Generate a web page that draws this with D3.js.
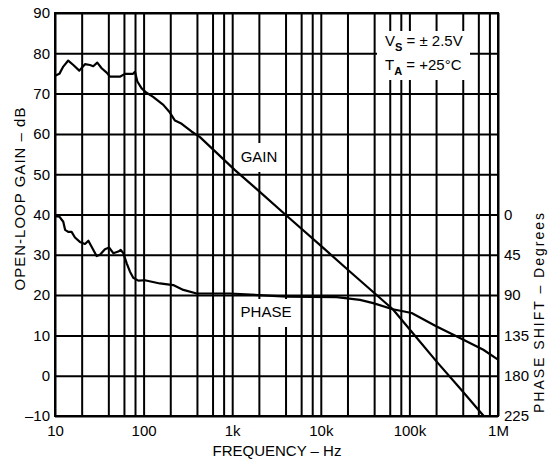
<!DOCTYPE html>
<html><head><meta charset="utf-8">
<script src="https://cdn.jsdelivr.net/npm/d3@7/dist/d3.min.js"></script>
<style>
html,body{margin:0;padding:0;background:#fff;}
text{font-family:"Liberation Sans",Arial,Helvetica,sans-serif;fill:#000;}
</style></head>
<body><svg id="c" width="548" height="464"></svg>
<script>
// ---- data ----
const gainFreq = [10,11.2,12.4,14.1,16.1,18.8,21.8,24.8,27,30,33.6,38.3,41.7,54,61.5,76,80,85,95,108,128,167,198,226,269,347,433,1075,2050,3970,10660,21400,65000,106000,203000,372000,690000];
const gainDb   = [74.4,74.9,76.7,78.2,77.1,75.7,77.3,77.1,76.8,77.7,76.3,75.2,74.2,74.2,74.9,74.9,75.4,73.0,71.3,70.2,69.2,67.2,65.3,63.3,62.5,60.6,59.2,51.0,45.6,40.0,31.7,25.8,16.5,10.9,3.5,-3.1,-10];
const phaseFreq = [10,11.2,12.4,13,14.1,15.4,16.8,19.1,21.8,23.8,25.9,29.5,32.2,36.6,40.9,45.5,51.8,55.2,59,64.5,70.2,76.4,87.1,103.5,152.6,216,281,397,943,4125,15100,27700,39100,65000,106000,203000,372000,683000,1000000];
const phaseDeg  = [1.8,2.3,8.1,17.1,19.4,19.4,25.7,30.6,32.9,29.3,36,46.4,45,38.7,36.9,43.2,41.4,39.6,43.2,54.5,63.9,70.7,73.8,73.4,77,78.8,84.2,88.2,88.2,91.8,92.2,95.4,99,105.8,110,125,138,151,162];
const gainTicks = [-10,0,10,20,30,40,50,60,70,80,90];
const phaseTicks = [0,45,90,135,180,225];
const freqLabels = {10:"10",100:"100",1000:"1k",10000:"10k",100000:"100k",1000000:"1M"};
const decades = [10,100,1000,10000,100000];
const gridMult = [1,2,4,6,8];

const svg = d3.select("#c");
const L=55,R=498,T=13,B=416;
const x = d3.scaleLog().domain([10,1e6]).range([L,R]);
const y = d3.scaleLinear().domain([-10,90]).range([B,T]);
const yp = d3.scaleLinear().domain([0,225]).range([y(40),y(-10)]);

const gridF = [];
decades.forEach(d=>gridMult.forEach(m=>gridF.push(d*m)));
gridF.push(1e6);

// grid via axes
const gx = svg.append("g").attr("transform",`translate(0,${B})`)
  .call(d3.axisBottom(x).tickValues(gridF).tickSize(-(B-T)).tickFormat(""));
gx.select(".domain").remove();
gx.selectAll("line").attr("stroke","#000").attr("stroke-width",2);
const gy = svg.append("g").attr("transform",`translate(${L},0)`)
  .call(d3.axisLeft(y).tickValues(gainTicks).tickSize(-(R-L)).tickFormat(""));
gy.select(".domain").remove();
gy.selectAll("line").attr("stroke","#000").attr("stroke-width",2);

// white label boxes
svg.append("rect").attr("x",377).attr("y",31).attr("width",93).attr("height",49).attr("fill","#fff");
svg.append("rect").attr("x",238).attr("y",143).attr("width",42).attr("height",29).attr("fill","#fff");
svg.append("rect").attr("x",239).attr("y",299).attr("width",55).attr("height",28).attr("fill","#fff");

// axis labels
const fs=15;
const ax = svg.append("g").attr("transform",`translate(0,${B})`)
  .call(d3.axisBottom(x).tickValues(Object.keys(freqLabels).map(Number)).tickSize(0).tickPadding(9)
  .tickFormat(d=>freqLabels[d]));
ax.select(".domain").remove();
ax.selectAll("text").style("font-size",fs+"px").attr("font-family","Liberation Sans, Arial, sans-serif");
const ay = svg.append("g").attr("transform",`translate(${L},0)`)
  .call(d3.axisLeft(y).tickValues(gainTicks).tickSize(0).tickPadding(5)
  .tickFormat(d=>d<0?"\u2013"+Math.abs(d):d));
ay.select(".domain").remove();
ay.selectAll("text").style("font-size",fs+"px").attr("font-family","Liberation Sans, Arial, sans-serif");
const ap = svg.append("g").attr("transform",`translate(${R},0)`)
  .call(d3.axisRight(yp).tickValues(phaseTicks).tickSize(0).tickPadding(6));
ap.select(".domain").remove();
ap.selectAll("text").style("font-size",fs+"px").attr("font-family","Liberation Sans, Arial, sans-serif");

// titles
svg.append("text").attr("x",277).attr("y",456).attr("text-anchor","middle").style("font-size",fs+"px").text("FREQUENCY \u2013 Hz");
svg.append("text").attr("transform","translate(25,199) rotate(-90)").attr("text-anchor","middle")
  .style("font-size",fs+"px").attr("textLength",183).attr("lengthAdjust","spacing").text("OPEN-LOOP GAIN \u2013 dB");
svg.append("text").attr("transform","translate(544,313) rotate(-90)").attr("text-anchor","middle")
  .style("font-size","14px").attr("textLength",200).attr("lengthAdjust","spacing").text("PHASE SHIFT \u2013 Degrees");

// annotation
const a1 = svg.append("text").attr("x",385).attr("y",46).style("font-size",fs+"px");
a1.append("tspan").text("V");
a1.append("tspan").attr("dy",5).style("font-size","11px").style("font-weight","bold").text("S");
a1.append("tspan").attr("dy",-5).text(" = \u00b1 2.5V");
const a2 = svg.append("text").attr("x",385).attr("y",70).style("font-size",fs+"px");
a2.append("tspan").text("T");
a2.append("tspan").attr("dy",5).style("font-size","11px").style("font-weight","bold").text("A");
a2.append("tspan").attr("dy",-5).text(" = +25\u00b0C");

svg.append("text").attr("x",259).attr("y",162).attr("text-anchor","middle").style("font-size",fs+"px").text("GAIN");
svg.append("text").attr("x",266).attr("y",317).attr("text-anchor","middle").style("font-size",fs+"px").text("PHASE");

// curves
const gainData = gainFreq.map((f,i)=>[f,gainDb[i]]);
const phaseData = phaseFreq.map((f,i)=>[f,phaseDeg[i]]);
svg.append("path").datum(gainData)
  .attr("d",d3.line().x(d=>x(d[0])).y(d=>y(d[1])))
  .attr("fill","none").attr("stroke","#000").attr("stroke-width",2.2).attr("stroke-linejoin","round");
svg.append("path").datum(phaseData)
  .attr("d",d3.line().x(d=>x(d[0])).y(d=>yp(d[1])))
  .attr("fill","none").attr("stroke","#000").attr("stroke-width",2.2).attr("stroke-linejoin","round");

// frame
svg.append("rect").attr("x",L).attr("y",T).attr("width",R-L).attr("height",B-T)
  .attr("fill","none").attr("stroke","#000").attr("stroke-width",2);
</script></body></html>
